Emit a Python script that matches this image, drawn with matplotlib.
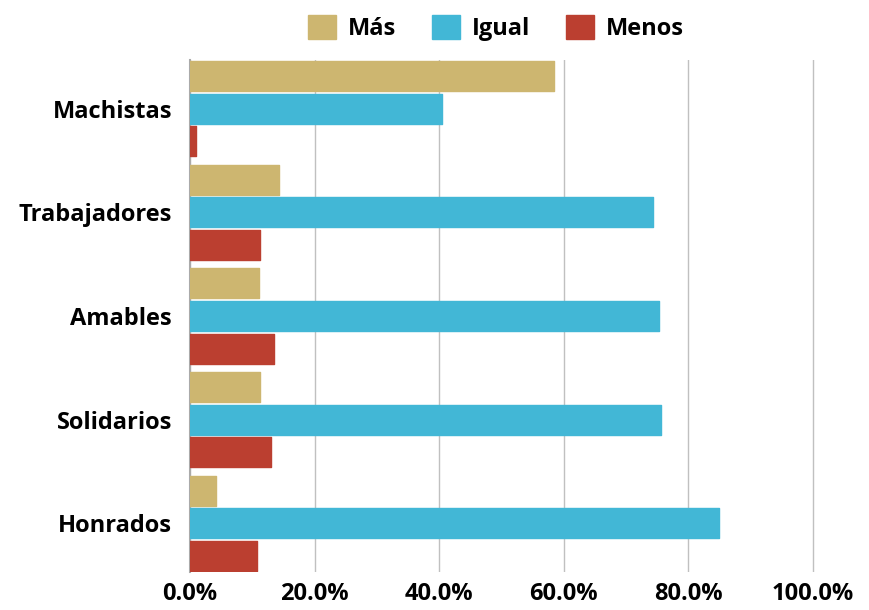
import matplotlib
matplotlib.use("Agg")
import matplotlib.pyplot as plt
import numpy as np
from matplotlib.patches import Patch
from matplotlib.ticker import FuncFormatter

categories = ["Machistas", "Trabajadores", "Amables", "Solidarios", "Honrados"]
series_names = ["Más", "Igual", "Menos"]
mas = [58.5, 14.3, 11.1, 11.3, 4.2]
igual = [40.5, 74.4, 75.4, 75.6, 85.0]
menos = [1.0, 11.2, 13.5, 13.0, 10.8]
colors = ["#CDB670", "#42B7D6", "#BB3F30"]
xticks = [0, 20, 40, 60, 80, 100]

plt.rcParams['font.family'] = ['Open Sans', 'DejaVu Sans']

fig = plt.figure(figsize=(8.7, 6.1), dpi=100)
ax = fig.add_axes([0.2184, 0.0623, 0.73, 0.8393])

y = np.arange(len(categories))
h = 0.29
off = 0.315
for vals, col, o in zip([mas, igual, menos], colors, [-off, 0, off]):
    ax.barh(y + o, vals, height=h, color=col, edgecolor=col, linewidth=1,
            joinstyle='round', zorder=3)

ax.set_ylim(len(categories) - 1 + 0.47, -0.47)
ax.set_xlim(0, 102)
ax.set_yticks(y)
ax.set_yticklabels(categories, fontsize=17, fontweight='bold')
ax.set_xticks(xticks)
ax.xaxis.set_major_formatter(FuncFormatter(lambda v, p: f"{v:.1f}%"))
for lab in ax.get_xticklabels():
    lab.set_fontsize(17)
    lab.set_fontweight('bold')
ax.tick_params(axis='x', length=0, pad=7)
ax.tick_params(axis='y', length=0, pad=13)
ax.grid(axis='x', color='#c0c0c0', linewidth=1, zorder=0)
for s in ['top', 'right', 'bottom']:
    ax.spines[s].set_visible(False)
ax.spines['left'].set_color('#aaaaaa')
ax.spines['left'].set_linewidth(1.5)

handles = [Patch(facecolor=c, edgecolor=c) for c in colors]
leg = fig.legend(handles, series_names, loc='upper center', bbox_to_anchor=(0.57, 1.01),
                 ncol=3, frameon=False, prop={'family': 'Open Sans', 'weight': 'bold', 'size': 17},
                 handlelength=1.2, handleheight=1.2, handletextpad=0.5, columnspacing=1.5)

fig.savefig("out.png", dpi=100)
